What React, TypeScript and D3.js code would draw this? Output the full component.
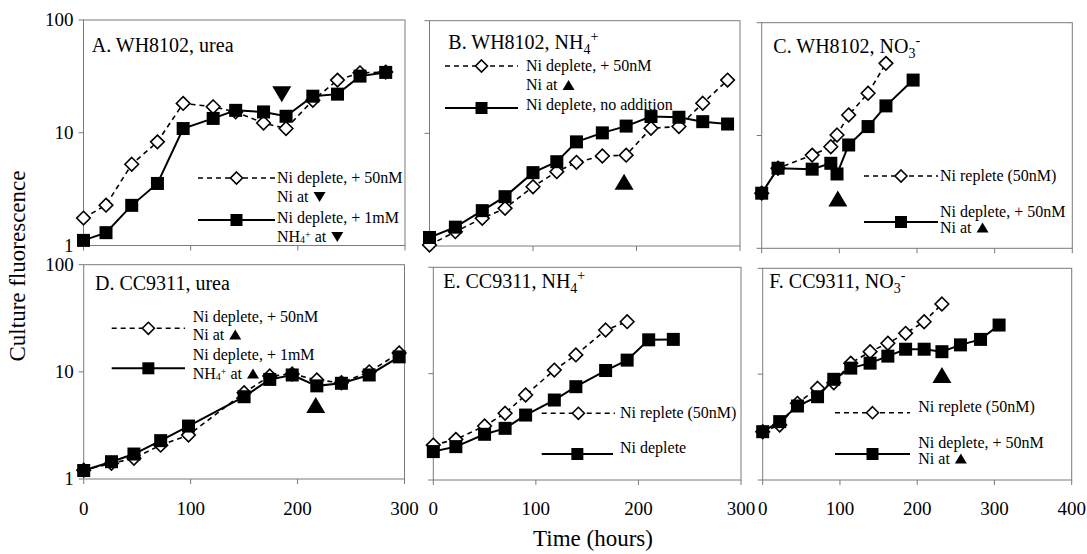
import { useEffect, useRef } from 'react';
import * as d3 from 'd3';

// A. WH8102, urea
const timeA = [0, 21, 45, 69, 93, 121, 142, 168, 189, 214, 237, 258, 282];
const niAddA = [1.75, 2.28, 5.25, 8.3, 18.2, 17, 15.3, 12.2, 10.9, 19.4, 29.3, 34, 34.5];
const nh4AddA = [1.11, 1.3, 2.27, 3.55, 10.9, 13.4, 15.8, 15.3, 14, 21.1, 22, 31.8, 34.3];

// B. WH8102, NH4+
const timeB = [0, 25, 51, 73, 100, 123, 142, 167, 190, 214, 241, 264, 288];
const niAddB = [1.02, 1.34, 1.76, 2.16, 3.36, 4.57, 5.53, 6.3, 6.4, 11.1, 11.5, 18.5, 29.7];
const noAddB = [1.19, 1.47, 2.06, 2.74, 4.48, 5.6, 8.4, 10.1, 11.6, 14.1, 13.9, 12.7, 12.1];

// C. WH8102, NO3-
const timeC = [0, 21, 65, 89, 97, 112, 137, 160, 195];
const repleteC = [3.08, 5.13, 6.7, 7.95, 10.1, 15.2, 23.7, 43.6];
const niAddC = [3.08, 5.13, 5.03, 5.67, 4.56, 8.24, 12, 18.3, 31];

// D. CC9311, urea
const timeD = [0, 26, 47, 72, 98, 150, 174, 195, 218, 241, 267, 295];
const niAddD = [1.21, 1.4, 1.56, 2.07, 2.57, 6.39, 9.14, 9.55, 8.4, 7.92, 10, 15];
const nh4AddD = [1.2, 1.45, 1.71, 2.28, 3.12, 5.86, 8.5, 9.35, 7.4, 7.82, 9.35, 13.8];

// E. CC9311, NH4+
const timeE = [0, 22, 50, 70, 90, 118, 139, 168, 189, 210, 234];
const repleteE = [2.13, 2.41, 3.22, 4.24, 6.3, 10.8, 15, 25.7, 30.8];
const depleteE = [1.85, 2.06, 2.69, 3.06, 4.08, 5.65, 7.54, 10.7, 13.4, 20.8, 21];

// F. CC9311, NO3-
const timeF = [0, 22, 45, 71, 92, 114, 139, 162, 185, 209, 232, 256, 282, 306];
const repleteF = [2.86, 3.31, 5.3, 7.36, 8.3, 12.7, 16.3, 19.6, 24.3, 31.3, 46];
const niAddF = [2.86, 3.56, 5, 6.12, 8.94, 11.4, 12.7, 14.8, 17.2, 17.2, 16.3, 18.9, 21.3, 29.1];

// arrows marking the time of addition: [time, value, direction]
const arrowsA = [[185, 22, 'down']];
const arrowsB = [[188, 3.72, 'up']];
const arrowsC = [[98, 2.77, 'up']];
const arrowsD = [[217, 4.9, 'up']];
const arrowsF = [[232, 9.8, 'up']];

const yTicks = [1, 10, 100];
const xTicks300 = [0, 100, 200, 300];
const xTicks400 = [0, 100, 200, 300, 400];

const FONT = '"Liberation Serif", "Times New Roman", serif';

const zip = (t, v) => v.map((value, i) => ({ t: t[i], v: value }));

const panels = [
  {
    box: { left: 83.5, right: 405, top: 20, bottom: 245.5 },
    xTicks: xTicks300, showX: false, showY: true,
    title: { x: 91.7, y: 51.5, parts: [{ s: 'A. WH8102, urea' }] },
    open: zip(timeA, niAddA), filled: zip(timeA, nh4AddA), arrows: arrowsA,
    legend: [
      { dash: true, x1: 198, x2: 275, y: 178 },
      { dash: false, x1: 198, x2: 275, y: 220 },
    ],
    legendText: [
      { x: 277, y: 178, parts: [{ s: 'Ni deplete, + 50nM' }] },
      { x: 277, y: 197, parts: [{ s: 'Ni at' }], tri: 'down' },
      { x: 277, y: 218, parts: [{ s: 'Ni deplete, + 1mM' }] },
      { x: 277, y: 237, parts: [{ s: 'NH' }, { s: '4', sub: true }, { s: '+', sup: true }, { s: ' at' }], tri: 'down' },
    ],
  },
  {
    box: { left: 429.5, right: 740, top: 20.7, bottom: 246 },
    xTicks: xTicks300, showX: false, showY: false,
    title: { x: 448.3, y: 49, parts: [{ s: 'B. WH8102, NH' }, { s: '4', sub: true }, { s: '+', sup: true }] },
    open: zip(timeB, niAddB), filled: zip(timeB, noAddB), arrows: arrowsB,
    legend: [
      { dash: true, x1: 445, x2: 518, y: 66 },
      { dash: false, x1: 445, x2: 518, y: 108 },
    ],
    legendText: [
      { x: 526, y: 66, parts: [{ s: 'Ni deplete, + 50nM' }] },
      { x: 526, y: 85, parts: [{ s: 'Ni at' }], tri: 'up' },
      { x: 526, y: 105, parts: [{ s: 'Ni deplete, no addition' }] },
    ],
  },
  {
    box: { left: 761.7, right: 1072.3, top: 22.7, bottom: 248.3 },
    xTicks: xTicks400, showX: false, showY: false,
    title: { x: 773.3, y: 53, parts: [{ s: 'C. WH8102, NO' }, { s: '3', sub: true }, { s: '-', sup: true }] },
    open: zip(timeC, repleteC), filled: zip(timeC, niAddC), arrows: arrowsC,
    legend: [
      { dash: true, x1: 864, x2: 938, y: 176 },
      { dash: false, x1: 864, x2: 938, y: 222 },
    ],
    legendText: [
      { x: 940, y: 176, parts: [{ s: 'Ni replete (50nM)' }] },
      { x: 940, y: 212, parts: [{ s: 'Ni deplete, + 50nM' }] },
      { x: 940, y: 227.5, parts: [{ s: 'Ni at' }], tri: 'up' },
    ],
  },
  {
    box: { left: 83.7, right: 404.5, top: 264.7, bottom: 479 },
    xTicks: xTicks300, showX: true, showY: true,
    title: { x: 95, y: 290, parts: [{ s: 'D. CC9311, urea' }] },
    open: zip(timeD, niAddD), filled: zip(timeD, nh4AddD), arrows: arrowsD,
    legend: [
      { dash: true, x1: 111.7, x2: 185, y: 328.3 },
      { dash: false, x1: 111.7, x2: 185, y: 368.3 },
    ],
    legendText: [
      { x: 192.7, y: 316.7, parts: [{ s: 'Ni deplete, + 50nM' }] },
      { x: 192.7, y: 334.5, parts: [{ s: 'Ni at' }], tri: 'up' },
      { x: 192.7, y: 355, parts: [{ s: 'Ni deplete, + 1mM' }] },
      { x: 192.7, y: 373.5, parts: [{ s: 'NH' }, { s: '4', sub: true }, { s: '+', sup: true }, { s: ' at' }], tri: 'up' },
    ],
  },
  {
    box: { left: 433.3, right: 741, top: 267.3, bottom: 480 },
    xTicks: xTicks300, showX: true, showY: false,
    title: { x: 443.3, y: 288, parts: [{ s: 'E. CC9311, NH' }, { s: '4', sub: true }, { s: '+', sup: true }] },
    open: zip(timeE, repleteE), filled: zip(timeE, depleteE), arrows: [],
    legend: [
      { dash: true, x1: 541.7, x2: 615, y: 413.3 },
      { dash: false, x1: 541.7, x2: 613, y: 454 },
    ],
    legendText: [
      { x: 620, y: 413.3, parts: [{ s: 'Ni replete (50nM)' }] },
      { x: 620, y: 448.3, parts: [{ s: 'Ni deplete' }] },
    ],
  },
  {
    box: { left: 762.7, right: 1071.7, top: 268.3, bottom: 480 },
    xTicks: xTicks400, showX: true, showY: false,
    title: { x: 769.3, y: 288, parts: [{ s: 'F. CC9311, NO' }, { s: '3', sub: true }, { s: '-', sup: true }] },
    open: zip(timeF, repleteF), filled: zip(timeF, niAddF), arrows: arrowsF,
    legend: [
      { dash: true, x1: 835, x2: 910, y: 412.7 },
      { dash: false, x1: 835, x2: 910, y: 454 },
    ],
    legendText: [
      { x: 918.3, y: 406.7, parts: [{ s: 'Ni replete (50nM)' }] },
      { x: 918.3, y: 443, parts: [{ s: 'Ni deplete, + 50nM' }] },
      { x: 918.3, y: 458.5, parts: [{ s: 'Ni at' }], tri: 'up' },
    ],
  },
];

const diamondPath = (r) => `M0,${-r}L${r},0L0,${r}L${-r},0Z`;
const triPath = (w, h, dir) =>
  dir === 'up'
    ? `M0,${-h / 2}L${w / 2},${h / 2}L${-w / 2},${h / 2}Z`
    : `M0,${h / 2}L${w / 2},${-h / 2}L${-w / 2},${-h / 2}Z`;

function addParts(text, parts, big) {
  const subSize = big ? 14 : 10;
  let shift = 0;
  parts.forEach((p) => {
    const ts = text.append('tspan').text(p.s);
    let target = 0;
    if (p.sub) {
      ts.attr('font-size', subSize);
      target = big ? 5 : 1;
    } else if (p.sup) {
      ts.attr('font-size', subSize);
      target = big ? -8 : -4;
    }
    ts.attr('dy', target - shift);
    shift = target;
  });
}

export default function App() {
  const ref = useRef(null);

  useEffect(() => {
    const svg = d3.select(ref.current);
    svg.selectAll('*').remove();
    svg.attr('font-family', FONT);

    panels.forEach((p) => {
      const { left, right, top, bottom } = p.box;
      const xMax = p.xTicks[p.xTicks.length - 1];
      const x = d3.scaleLinear().domain([0, xMax]).range([left, right]);
      const y = d3.scaleLog().domain([1, 100]).range([bottom, top]);
      const g = svg.append('g');

      // frame
      g.append('rect')
        .attr('x', left).attr('y', top)
        .attr('width', right - left).attr('height', bottom - top)
        .attr('fill', 'none').attr('stroke', '#7a7a7a').attr('stroke-width', 1);

      // ticks
      g.selectAll('.xt').data(p.xTicks).join('line')
        .attr('x1', (d) => x(d)).attr('x2', (d) => x(d))
        .attr('y1', bottom).attr('y2', bottom + 5)
        .attr('stroke', '#7a7a7a');
      g.selectAll('.yt').data(yTicks).join('line')
        .attr('x1', left - 5).attr('x2', left)
        .attr('y1', (d) => y(d)).attr('y2', (d) => y(d))
        .attr('stroke', '#7a7a7a');

      if (p.showX) {
        g.selectAll('.xl').data(p.xTicks).join('text')
          .attr('x', (d) => x(d)).attr('y', 515)
          .attr('text-anchor', 'middle').attr('font-size', 19)
          .text((d) => d);
      }
      if (p.showY) {
        g.selectAll('.yl').data(yTicks).join('text')
          .attr('x', left - 10).attr('y', (d) => y(d)).attr('dy', '0.33em')
          .attr('text-anchor', 'end').attr('font-size', 19)
          .text((d) => d);
      }

      // title
      const title = g.append('text')
        .attr('x', p.title.x).attr('y', p.title.y).attr('font-size', 20);
      addParts(title, p.title.parts, true);

      // series
      const line = d3.line().x((d) => x(d.t)).y((d) => y(d.v));
      g.append('path').datum(p.open).attr('d', line)
        .attr('fill', 'none').attr('stroke', '#000').attr('stroke-width', 1.6)
        .attr('stroke-dasharray', '5,4');
      g.append('path').datum(p.filled).attr('d', line)
        .attr('fill', 'none').attr('stroke', '#000').attr('stroke-width', 2);

      g.selectAll('.dm').data(p.open).join('path')
        .attr('transform', (d) => `translate(${x(d.t)},${y(d.v)})`)
        .attr('d', diamondPath(6.8))
        .attr('fill', '#fff').attr('stroke', '#000').attr('stroke-width', 1.6);
      g.selectAll('.sq').data(p.filled).join('rect')
        .attr('x', (d) => x(d.t) - 6.5).attr('y', (d) => y(d.v) - 6.5)
        .attr('width', 13).attr('height', 13).attr('fill', '#000');

      g.selectAll('.ar').data(p.arrows).join('path')
        .attr('transform', (d) => `translate(${x(d[0])},${y(d[1])})`)
        .attr('d', (d) => triPath(19, 16, d[2]))
        .attr('fill', '#000');

      // legend
      p.legend.forEach((l) => {
        g.append('line')
          .attr('x1', l.x1).attr('x2', l.x2).attr('y1', l.y).attr('y2', l.y)
          .attr('stroke', '#000').attr('stroke-width', l.dash ? 1.6 : 2)
          .attr('stroke-dasharray', l.dash ? '5,4' : null);
        const cx = (l.x1 + l.x2) / 2;
        if (l.dash) {
          g.append('path').attr('transform', `translate(${cx},${l.y})`)
            .attr('d', diamondPath(6))
            .attr('fill', '#fff').attr('stroke', '#000').attr('stroke-width', 1.6);
        } else {
          g.append('rect').attr('x', cx - 6).attr('y', l.y - 6)
            .attr('width', 12).attr('height', 12).attr('fill', '#000');
        }
      });
      p.legendText.forEach((lt) => {
        const t = g.append('text')
          .attr('x', lt.x).attr('y', lt.y + 5).attr('font-size', 16);
        addParts(t, lt.parts, false);
        if (lt.tri) {
          const w = t.node().getComputedTextLength();
          g.append('path')
            .attr('transform', `translate(${lt.x + w + 11},${lt.y})`)
            .attr('d', triPath(12, 10, lt.tri))
            .attr('fill', '#000');
        }
      });
    });

    // axis titles
    svg.append('text')
      .attr('transform', 'translate(25,266) rotate(-90)')
      .attr('text-anchor', 'middle').attr('font-size', 23)
      .text('Culture fluorescence');
    svg.append('text')
      .attr('x', 593).attr('y', 546)
      .attr('text-anchor', 'middle').attr('font-size', 23)
      .text('Time (hours)');
  }, []);

  return (
    <svg
      ref={ref}
      width={1087}
      height={554}
      style={{ position: 'absolute', left: 0, top: 0, background: '#fff' }}
    />
  );
}
